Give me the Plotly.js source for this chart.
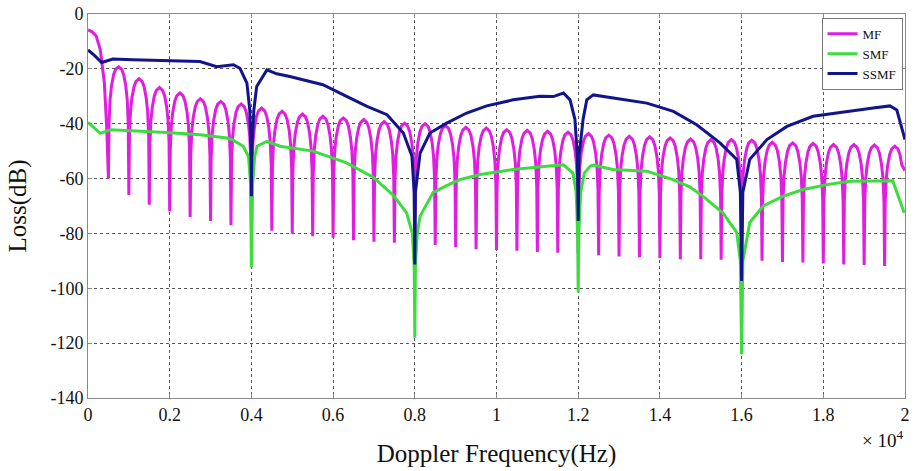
<!DOCTYPE html>
<html>
<head>
<meta charset="utf-8">
<script src="https://cdn.plot.ly/plotly-3.0.1.min.js"></script>
<style>html,body{margin:0;padding:0;background:#fff;}#chart{width:918px;height:471px;}</style>
</head>
<body>
<div id="chart"></div>
<script>
// ---- Data ----
// MF: main lobe points, then side-lobe peaks (Hz = 750, 1250, ... 19750) and nulls (Hz = 500, 1000, ... 19500)
var mfMainHz = [0, 100, 200, 300, 400, 460];
var mfMainDb = [-5.8, -6.5, -8, -13, -25, -42];
var mfNullHz = [500,1000,1500,2000,2500,3000,3500,4000,4500,5000,5500,6000,6500,7000,7500,8000,8500,9000,9500,10000,
                10500,11000,11500,12000,12500,13000,13500,14000,14500,15000,15500,16000,16500,17000,17500,18000,18500,19000,19500];
var mfNullDb = [-60,-66,-69.5,-72,-74,-75.5,-77,-78,-79,-80,-81,-81.6,-82.5,-83,-83.4,-84,-84.2,-85,-85.8,-86,
                -86.3,-86.8,-87,-87.5,-88,-88.4,-88.7,-89,-89.4,-89.4,-89.6,-89.8,-90,-90.4,-90.6,-91,-91.3,-91.5,-91.9];
var mfPeakHz = [750,1250,1750,2250,2750,3250,3750,4250,4750,5250,5750,6250,6750,7250,7750,8250,8750,9250,9750,10250,
                10750,11250,11750,12250,12750,13250,13750,14250,14750,15250,15750,16250,16750,17250,17750,18250,18750,19250,19750];
var mfPeakDb = [-19.2,-23.6,-26.8,-28.8,-30.9,-31.9,-32.8,-34.3,-35.5,-36.5,-37.3,-37.9,-38.5,-39.2,-39.8,-40,-40.7,-41.3,-41.6,-42.2,
                -42.4,-42.8,-43.1,-43.6,-44.2,-44.6,-44.8,-45.2,-45.6,-45.8,-45.8,-46,-46.8,-47,-47.2,-47.6,-47.6,-47.8,-48.2];
var mfEndHz = 20000, mfEndDb = -57;

var smfHz = [0,150,300,550,1100,1930,2740,3400,3550,3800,3930,3980,4000,4030,4080,4140,4380,4700,5510,6330,6980,7470,7800,7940,7985,8000,8015,8060,8130,8450,8790,9100,9600,10400,11230,11640,11870,11950,11985,12000,12015,12060,12150,12290,12370,12850,13680,14320,14730,15050,15540,15880,15970,16000,16030,16200,16530,17020,17510,18090,18650,19460,19700,19800,19980];
var smfDb = [-39.5,-41.5,-43.5,-42.2,-42.5,-43.2,-44,-45.2,-46,-48.2,-52,-62,-92.4,-62,-52,-48.2,-46.4,-48.2,-50,-54.3,-59.5,-66,-72.5,-80,-92,-118,-92,-80,-73.7,-65,-62.5,-60.4,-58.5,-56.7,-55.5,-55,-58,-65,-80,-101.5,-80,-65,-58,-55.5,-55.1,-56.7,-57.3,-60.4,-63,-66.4,-72.5,-79.6,-90,-124,-90,-76,-70,-66.4,-64,-62.2,-61,-61,-60.8,-65,-72.5];

var ssmfHz = [0,150,335,610,1100,1930,2740,3150,3560,3720,3890,3960,3990,4000,4010,4060,4130,4380,4620,4940,5190,5750,6330,6830,7320,7720,7930,7985,8000,8015,8130,8370,8780,9270,9760,10410,11060,11390,11640,11800,11920,11980,12000,12020,12120,12210,12370,12860,13680,14330,14900,15470,15880,15970,16000,16030,16200,16620,17110,17750,18580,19220,19630,19800,20000];
var ssmfDb = [-13.1,-15,-17.7,-16.4,-16.7,-17.1,-17.3,-19.2,-18.5,-19.8,-25.2,-35,-50,-66.4,-50,-35,-26.4,-20.4,-21.8,-22.8,-23.7,-25.8,-30,-33.7,-36.7,-43.4,-51.9,-65,-91.3,-65,-50.7,-43.4,-39.8,-36.1,-33.5,-31.3,-30,-30.1,-28.8,-31.3,-38.4,-52,-75.5,-52,-38.4,-31.3,-29.5,-30.7,-32.5,-35.5,-40.4,-47,-53,-65,-97.3,-65,-53,-45.8,-41,-37.3,-35.5,-34.3,-33.5,-35,-45.8];

var xTickVals = [0,2000,4000,6000,8000,10000,12000,14000,16000,18000,20000];
var xTickText = ['0','0.2','0.4','0.6','0.8','1','1.2','1.4','1.6','1.8','2'];
var yTickVals = [0,-20,-40,-60,-80,-100,-120,-140];
var yTickText = ['0','-20','-40','-60','-80','-100','-120','-140'];
var seriesNames = ['MF','SMF','SSMF'];

// ---- Build the MF lobe polyline from the read peaks/nulls ----
var lobeFrac = [0.03,0.08,0.15,0.25,0.35,0.5,0.65,0.75,0.85,0.92,0.97];
var lobeDrop = [20.5,12,7,3,1,0,1,3,7,12,20.5];
var mfX = mfMainHz.slice(), mfY = mfMainDb.slice();
for (var k = 0; k < mfPeakHz.length; k++) {
  var nHz = mfNullHz[k], nDb = mfNullDb[k];
  mfX.push(nHz); mfY.push(nDb);
  var period = (mfPeakHz[k] - nHz) * 2;
  var last = (k === mfPeakHz.length - 1);
  for (var j = 0; j < lobeFrac.length; j++) {
    if (last && lobeFrac[j] > 0.85) break;
    mfX.push(nHz + lobeFrac[j] * period);
    mfY.push(mfPeakDb[k] - lobeDrop[j]);
  }
}
mfX.push(mfEndHz); mfY.push(mfEndDb);

var serif = 'Liberation Serif';
var traces = [
  {x: mfX, y: mfY, name: seriesNames[0], mode: 'lines', line: {color: '#e01ee0', width: 3}},
  {x: smfHz, y: smfDb, name: seriesNames[1], mode: 'lines', line: {color: '#3ddc3d', width: 3}},
  {x: ssmfHz, y: ssmfDb, name: seriesNames[2], mode: 'lines', line: {color: '#12148c', width: 3}}
];
var axisCommon = {
  showline: true, linecolor: '#8a8a8a', linewidth: 1, mirror: 'ticks',
  ticks: 'inside', ticklen: 4, tickcolor: '#8a8a8a',
  showgrid: true, gridcolor: '#555', gridwidth: 1, griddash: 'dot',
  zeroline: false, tickfont: {family: serif, size: 18, color: '#111'}
};
var layout = {
  width: 918, height: 471,
  margin: {l: 88, r: 13, t: 14, b: 73},
  paper_bgcolor: '#fff', plot_bgcolor: '#fff',
  font: {family: serif},
  showlegend: true,
  legend: {x: 0.997, y: 0.99, xanchor: 'right', yanchor: 'top', bgcolor: '#fff',
           bordercolor: '#777', borderwidth: 1, font: {family: serif, size: 13, color: '#111'},
           itemwidth: 30, tracegroupgap: 0},
  xaxis: Object.assign({}, axisCommon, {range: [0, 20000], tickmode: 'array', tickvals: xTickVals, ticktext: xTickText,
          title: {text: 'Doppler Frequency(Hz)', font: {family: serif, size: 25, color: '#111'}, standoff: 20}}),
  yaxis: Object.assign({}, axisCommon, {range: [-140, 0], tickmode: 'array', tickvals: yTickVals, ticktext: yTickText,
          title: {text: 'Loss(dB)', font: {family: serif, size: 25, color: '#111'}, standoff: 16}}),
  annotations: [{xref: 'paper', yref: 'paper', x: 1.0, y: -0.07, xanchor: 'right', yanchor: 'top', showarrow: false,
                 text: '× 10<sup>4</sup>', font: {family: serif, size: 19, color: '#111'}}]
};
Plotly.newPlot('chart', traces, layout, {displayModeBar: false, staticPlot: true});
</script>
</body>
</html>
